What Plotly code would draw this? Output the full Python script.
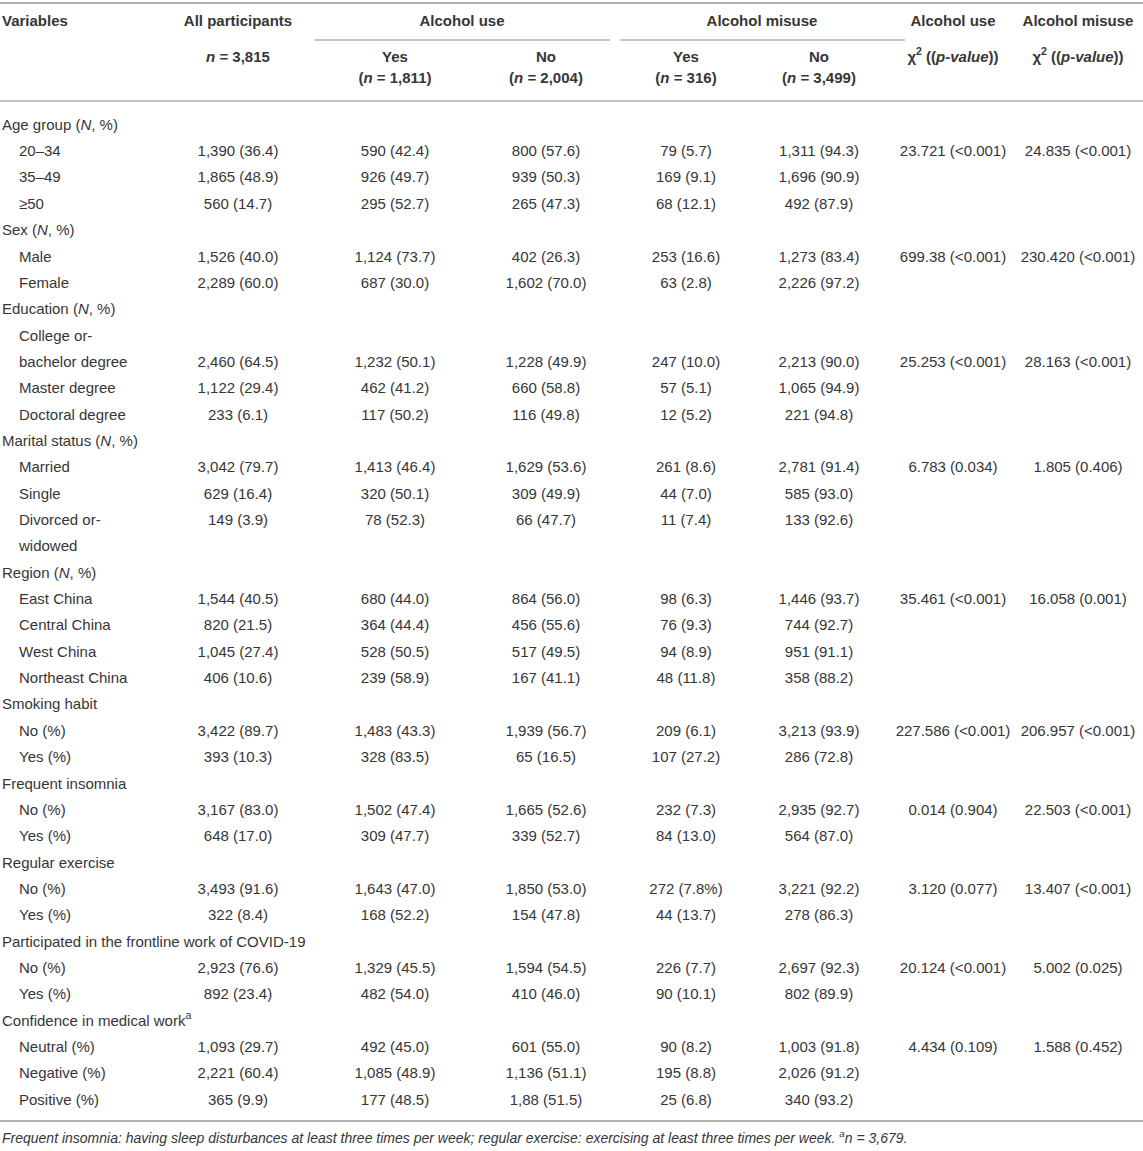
import plotly.graph_objects as go

# ---------------- data ----------------
variables = ["Age group (<i>N</i>, %)", "20–34", "35–49", "≥50",
             "Sex (<i>N</i>, %)", "Male", "Female",
             "Education (<i>N</i>, %)", "College or-", "bachelor degree", "Master degree", "Doctoral degree",
             "Marital status (<i>N</i>, %)", "Married", "Single", "Divorced or-", "widowed",
             "Region (<i>N</i>, %)", "East China", "Central China", "West China", "Northeast China",
             "Smoking habit", "No (%)", "Yes (%)",
             "Frequent insomnia", "No (%)", "Yes (%)",
             "Regular exercise", "No (%)", "Yes (%)",
             "Participated in the frontline work of COVID-19", "No (%)", "Yes (%)",
             "Confidence in medical work<sup>a</sup>", "Neutral (%)", "Negative (%)", "Positive (%)"]
indent = [0, 1, 1, 1, 0, 1, 1, 0, 1, 1, 1, 1, 0, 1, 1, 1, 1, 0, 1, 1, 1, 1,
          0, 1, 1, 0, 1, 1, 0, 1, 1, 0, 1, 1, 0, 1, 1, 1]

all_participants = ["", "1,390 (36.4)", "1,865 (48.9)", "560 (14.7)", "", "1,526 (40.0)", "2,289 (60.0)",
                    "", "", "2,460 (64.5)", "1,122 (29.4)", "233 (6.1)", "", "3,042 (79.7)", "629 (16.4)",
                    "149 (3.9)", "", "", "1,544 (40.5)", "820 (21.5)", "1,045 (27.4)", "406 (10.6)", "",
                    "3,422 (89.7)", "393 (10.3)", "", "3,167 (83.0)", "648 (17.0)", "", "3,493 (91.6)",
                    "322 (8.4)", "", "2,923 (76.6)", "892 (23.4)", "", "1,093 (29.7)", "2,221 (60.4)", "365 (9.9)"]
use_yes = ["", "590 (42.4)", "926 (49.7)", "295 (52.7)", "", "1,124 (73.7)", "687 (30.0)", "", "",
           "1,232 (50.1)", "462 (41.2)", "117 (50.2)", "", "1,413 (46.4)", "320 (50.1)", "78 (52.3)", "", "",
           "680 (44.0)", "364 (44.4)", "528 (50.5)", "239 (58.9)", "", "1,483 (43.3)", "328 (83.5)", "",
           "1,502 (47.4)", "309 (47.7)", "", "1,643 (47.0)", "168 (52.2)", "", "1,329 (45.5)", "482 (54.0)",
           "", "492 (45.0)", "1,085 (48.9)", "177 (48.5)"]
use_no = ["", "800 (57.6)", "939 (50.3)", "265 (47.3)", "", "402 (26.3)", "1,602 (70.0)", "", "",
          "1,228 (49.9)", "660 (58.8)", "116 (49.8)", "", "1,629 (53.6)", "309 (49.9)", "66 (47.7)", "", "",
          "864 (56.0)", "456 (55.6)", "517 (49.5)", "167 (41.1)", "", "1,939 (56.7)", "65 (16.5)", "",
          "1,665 (52.6)", "339 (52.7)", "", "1,850 (53.0)", "154 (47.8)", "", "1,594 (54.5)", "410 (46.0)",
          "", "601 (55.0)", "1,136 (51.1)", "1,88 (51.5)"]
misuse_yes = ["", "79 (5.7)", "169 (9.1)", "68 (12.1)", "", "253 (16.6)", "63 (2.8)", "", "",
              "247 (10.0)", "57 (5.1)", "12 (5.2)", "", "261 (8.6)", "44 (7.0)", "11 (7.4)", "", "",
              "98 (6.3)", "76 (9.3)", "94 (8.9)", "48 (11.8)", "", "209 (6.1)", "107 (27.2)", "",
              "232 (7.3)", "84 (13.0)", "", "272 (7.8%)", "44 (13.7)", "", "226 (7.7)", "90 (10.1)",
              "", "90 (8.2)", "195 (8.8)", "25 (6.8)"]
misuse_no = ["", "1,311 (94.3)", "1,696 (90.9)", "492 (87.9)", "", "1,273 (83.4)", "2,226 (97.2)", "", "",
             "2,213 (90.0)", "1,065 (94.9)", "221 (94.8)", "", "2,781 (91.4)", "585 (93.0)", "133 (92.6)", "", "",
             "1,446 (93.7)", "744 (92.7)", "951 (91.1)", "358 (88.2)", "", "3,213 (93.9)", "286 (72.8)", "",
             "2,935 (92.7)", "564 (87.0)", "", "3,221 (92.2)", "278 (86.3)", "", "2,697 (92.3)", "802 (89.9)",
             "", "1,003 (91.8)", "2,026 (91.2)", "340 (93.2)"]
chi_use = ["", "23.721 (<0.001)", "", "", "", "699.38 (<0.001)", "", "", "", "25.253 (<0.001)", "", "", "",
           "6.783 (0.034)", "", "", "", "", "35.461 (<0.001)", "", "", "", "", "227.586 (<0.001)", "", "",
           "0.014 (0.904)", "", "", "3.120 (0.077)", "", "", "20.124 (<0.001)", "", "", "4.434 (0.109)", "", ""]
chi_misuse = ["", "24.835 (<0.001)", "", "", "", "230.420 (<0.001)", "", "", "", "28.163 (<0.001)", "", "", "",
              "1.805 (0.406)", "", "", "", "", "16.058 (0.001)", "", "", "", "", "206.957 (<0.001)", "", "",
              "22.503 (<0.001)", "", "", "13.407 (<0.001)", "", "", "5.002 (0.025)", "", "", "1.588 (0.452)", "", ""]

header_top = ["All participants", "Alcohol use", "Alcohol misuse", "Alcohol use", "Alcohol misuse"]
header_mid = ["<i>n</i> = 3,815", "Yes", "No", "Yes", "No",
              "χ<sup>2</sup> ((<i>p-value</i>))", "χ<sup>2</sup> ((<i>p-value</i>))"]
header_low = ["(<i>n</i> = 1,811)", "(<i>n</i> = 2,004)", "(<i>n</i> = 316)", "(<i>n</i> = 3,499)"]
footnote = ("Frequent insomnia: having sleep disturbances at least three times per week; "
            "regular exercise: exercising at least three times per week. <sup>a</sup>n = 3,679.")

# ---------------- layout geometry ----------------
W, H = 1143, 1151
FONT = "Liberation Sans, Arial, sans-serif"
COL = "#363636"
LINE = "#b3b3b3"
row0, row_h = 126, 26.35
rows_y = [row0 + i * row_h for i in range(len(variables))]
col_x = [238, 395, 546, 686, 819, 953, 1078]
group_x = [238, 462, 762, 953, 1078]
group_lines = [(315, 610), (620, 905)]
x_cat, x_sub = 2, 19
y_h1, y_h2, y_h3 = 22, 58, 79
y_top, y_grp, y_head, y_bot, y_foot = 3, 40, 101, 1121, 1139

fig = go.Figure()

def text_trace(xs, ys, texts, pos="middle center", size=15, italic=False):
    keep = [(x, y, t) for x, y, t in zip(xs, ys, texts) if t]
    fig.add_trace(go.Scatter(
        x=[k[0] for k in keep], y=[k[1] for k in keep], text=[k[2] for k in keep],
        mode="text", textposition=pos,
        textfont=dict(family=FONT, size=size, color=COL, style="italic" if italic else "normal"),
        hoverinfo="skip", showlegend=False))

# variables column
text_trace([x_sub if k else x_cat for k in indent], rows_y, variables, pos="middle right")

# value columns
for cx, vals in zip(col_x, [all_participants, use_yes, use_no, misuse_yes, misuse_no, chi_use, chi_misuse]):
    text_trace([cx] * len(vals), rows_y, vals)

# headers
text_trace([x_cat], [y_h1], ["<b>Variables</b>"], pos="middle right")
text_trace(group_x, [y_h1] * len(group_x), [f"<b>{t}</b>" for t in header_top])
text_trace(col_x, [y_h2] * len(col_x), [f"<b>{t}</b>" for t in header_mid])
text_trace(col_x[1:5], [y_h3] * 4, [f"<b>{t}</b>" for t in header_low])

# footnote
text_trace([x_cat], [y_foot], [footnote], pos="middle right", size=14, italic=True)

# rules
shapes = [
    dict(type="line", x0=0, x1=W, y0=y_top, y1=y_top, line=dict(color=LINE, width=2)),
    dict(type="line", x0=0, x1=W, y0=y_head, y1=y_head, line=dict(color=LINE, width=1.5)),
    dict(type="line", x0=0, x1=W, y0=y_bot, y1=y_bot, line=dict(color=LINE, width=2)),
]
for a, b in group_lines:
    shapes.append(dict(type="line", x0=a, x1=b, y0=y_grp, y1=y_grp, line=dict(color=LINE, width=1.5)))
for s in shapes:
    s.update(xref="x", yref="y", layer="below")

fig.update_layout(
    width=W, height=H, margin=dict(l=0, r=0, t=0, b=0),
    paper_bgcolor="white", plot_bgcolor="white",
    xaxis=dict(range=[0, W], visible=False, fixedrange=True),
    yaxis=dict(range=[H, 0], visible=False, fixedrange=True),
    shapes=shapes, showlegend=False,
)

fig.write_html("out.html",
               config={"displayModeBar": False, "staticPlot": True},
               post_script="document.body.style.margin='0';document.body.style.padding='0';"
                           "document.body.style.overflow='hidden';")
